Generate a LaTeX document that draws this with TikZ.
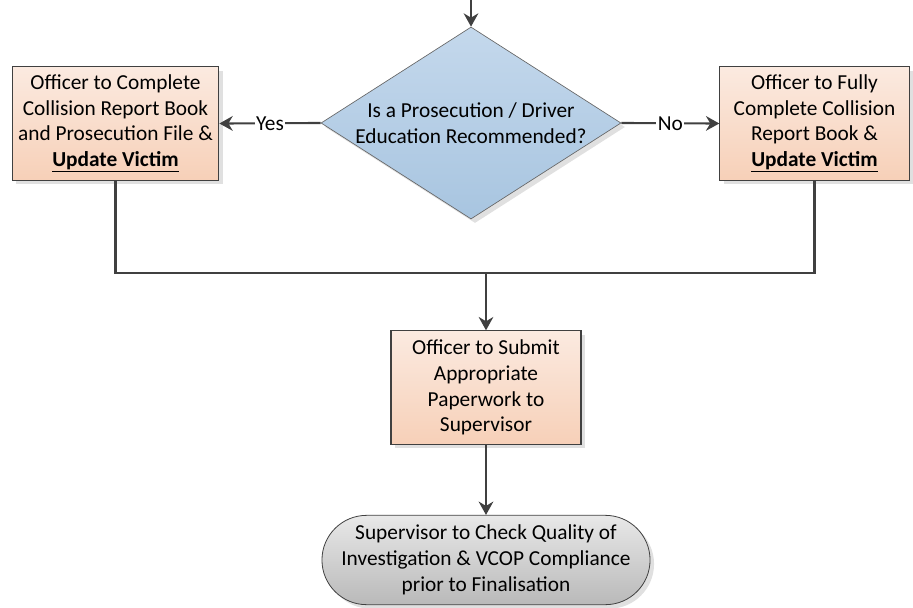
\documentclass[tikz,border=0pt]{standalone}
\usepackage{fontspec}
\setmainfont{Carlito}
\usetikzlibrary{shapes,positioning,arrows.meta,shadows}
\definecolor{boxtop}{HTML}{FBEAE0}
\definecolor{boxbot}{HTML}{F7D0B8}
\definecolor{dmdtop}{HTML}{C4D8EC}
\definecolor{dmdbot}{HTML}{A8C5E0}
\definecolor{termtop}{HTML}{E8E8E8}
\definecolor{termbot}{HTML}{B9B9B9}
\definecolor{edge}{HTML}{404040}
\tikzset{txt/.style={font=\fontsize{16pt}{19.3pt}\selectfont,align=center,text=black}}
\tikzset{shd/.style={drop shadow={shadow xshift=3pt,shadow yshift=-3pt,fill=black!30,opacity=0.4}}}
\tikzset{rec/.style={rectangle,draw=edge,line width=0.8pt,top color=boxtop,bottom color=boxbot,minimum height=85pt,inner sep=2pt,shd,txt}}
\tikzset{dmd/.style={diamond,draw=edge!80,line width=0.5pt,top color=dmdtop,bottom color=dmdbot,minimum width=225pt,minimum height=144pt,aspect=1.5625,inner sep=0pt,shd,txt}}
\tikzset{term/.style={rounded rectangle,draw=edge,line width=0.6pt,top color=termtop,bottom color=termbot,minimum width=228pt,minimum height=67pt,inner sep=2pt,shd,txt}}
\tikzset{lbl/.style={fill=white,inner sep=1pt,txt}}
\tikzset{flow/.style={draw=edge,line width=1.6pt}}

\begin{document}
\begin{tikzpicture}[>={Stealth[length=10pt,width=11pt]},x=0.75pt,y=-0.75pt]
        \useasboundingbox (0,0) rectangle (913,607);
        \coordinate (in) at (471,0);
        \coordinate (join) at (486,273);
        \node[dmd] (dec) at (471,123) {Is a Prosecution / Driver\\Education Recommended?};
        \node[rec, minimum width=155pt] (yes) at (115.5,123.5) {Officer to Complete\\Collision Report Book\\and Prosecution File \&\\\textbf{\underline{Update Victim}}};
        \node[rec, minimum width=142pt] (no) at (814.5,123.5) {Officer to Fully\\Complete Collision\\Report Book \&\\\textbf{\underline{Update Victim}}};
        \node[rec, minimum width=142.5pt] (sub) at (486,387.5) {Officer to Submit\\Appropriate\\Paperwork to\\Supervisor};
        \node[term] (chk) at (486,560) {Supervisor to Check Quality of\\Investigation \& VCOP Compliance\\prior to Finalisation};

        \draw [flow,->] (in) to []node[]{} (dec.north);
        \draw [flow,->] (dec.west) to []node[lbl]{Yes} (yes.east);
        \draw [flow,->] (dec.east) to []node[lbl]{No} (no.west);
        \draw [flow] (yes.south) |- (join);
        \draw [flow] (no.south) |- (join);
        \draw [flow,->] (join) to []node[]{} (sub.north);
        \draw [flow,->] (sub.south) to []node[]{} (chk.north);

    \end{tikzpicture}
\end{document}
